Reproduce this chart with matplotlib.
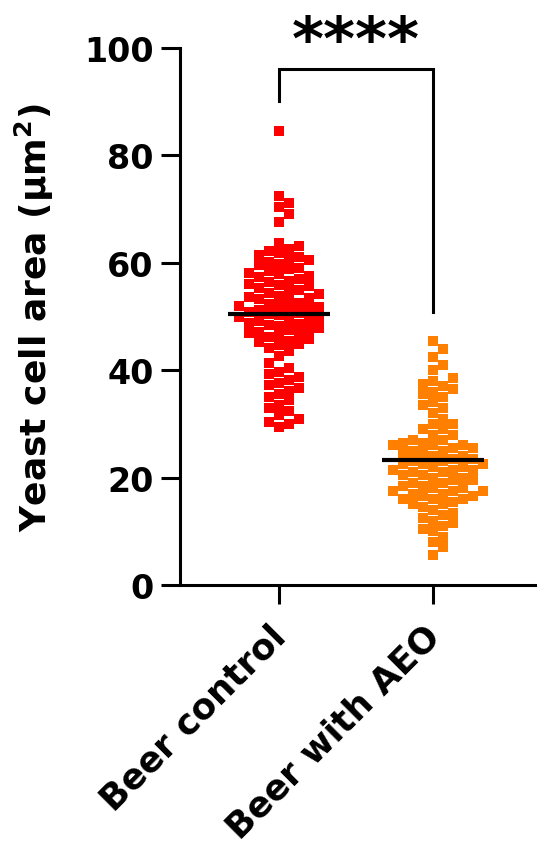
import numpy as np
import matplotlib
matplotlib.use("Agg")
import matplotlib.pyplot as plt
from matplotlib.transforms import ScaledTranslation

plt.rcParams['font.family'] = ['DejaVu Sans']
plt.rcParams['font.weight'] = 'bold'
plt.rcParams['mathtext.default'] = 'bf'

groups = ["Beer control", "Beer with AEO"]
colors = ["#FF0000", "#FF8000"]

control = [84.5,
           72.5, 71.2, 70.4, 69.0, 67.6,
           63.6, 63.1, 62.6, 62.2,
           61.8, 61.5, 61.1, 60.8, 60.5, 60.2,
           59.8, 59.5, 59.1, 58.8, 58.4, 58.1,
           57.9, 57.6, 57.3, 57.0, 56.7, 56.4, 56.1,
           55.9, 55.6, 55.3, 55.0, 54.7, 54.4, 54.1,
           53.9, 53.7, 53.4, 53.2, 52.9, 52.6, 52.4, 52.1,
           51.9, 51.7, 51.5, 51.3, 51.1, 50.8, 50.6, 50.4, 50.2,
           49.9, 49.7, 49.5, 49.3, 49.1, 48.8, 48.6, 48.4, 48.2,
           47.9, 47.7, 47.4, 47.2, 46.9, 46.7, 46.4, 46.2,
           45.8, 45.5, 45.2, 44.9, 44.6, 44.2,
           43.5, 42.6,
           41.4, 40.5,
           39.7, 39.2, 38.7, 38.2,
           37.7, 37.2, 36.7, 36.2,
           35.6, 35.0, 34.4,
           33.6, 33.0, 32.4,
           31.6, 31.0, 30.4,
           29.9, 29.4]

aeo = [45.5, 44, 42.5, 41, 40, 38.5, 38, 37.5, 37, 36.5, 36, 35.5, 35, 34,
       33.5, 33, 32, 31, 30, 30, 29, 29, 28, 28,
       27, 27, 26.5, 26.5, 26, 26, 26, 25.5, 25.5, 25, 25, 24.5, 24.5, 24,
       24, 23.5, 23.5, 23, 23, 22.5, 22.5, 22.5, 22, 22, 21.5, 21.5, 21.5,
       21, 21, 20.5, 20.5, 20, 20, 19.5, 19.5, 19, 19, 18.5, 18.5, 18, 18,
       17.5, 17.5, 17.5, 17, 17, 16.5, 16.5, 16, 16, 16,
       15.5, 15, 15, 14.5, 14, 13.5, 13, 12.5, 12, 11.5, 11, 10.5, 10, 9, 8,
       7, 5.5]

data = [control, aeo]

fig = plt.figure(figsize=(5.5, 8.53), dpi=100)
ax = fig.add_axes([180/550, 267/853, 355/550, 537/853])

px_per_y = 5.37     # pixels per data unit (y)
px_per_x = 154.0    # pixels per category
msize = 11          # marker size in pixels


def swarm(vals):
    # simple column-based swarm in pixel space
    order = np.argsort(vals)
    placed = []
    offs = np.zeros(len(vals))
    for i in order:
        y = vals[i] * px_per_y
        k = 0
        while True:
            cands = [0] if k == 0 else [k, -k]
            ok = None
            for c in cands:
                x = c * msize * 0.9
                if all(abs(x - px) >= msize * 0.85 or abs(y - py) >= msize * 0.85
                       for px, py in placed):
                    ok = x
                    break
            if ok is not None:
                placed.append((ok, y))
                offs[i] = ok
                break
            k += 1
    return offs / px_per_x


for i, vals in enumerate(data):
    vals = np.array(vals)
    xs = i + swarm(vals)
    ax.plot(xs, vals, 's', color=colors[i], markersize=7.6, markeredgewidth=0,
            clip_on=False, zorder=2)
    m = vals.mean()
    ax.plot([i - 0.33, i + 0.33], [m, m], color='black', lw=3, zorder=3,
            solid_capstyle='butt')

# significance bracket
ax.plot([0, 0, 1, 1], [90.2, 96.1, 96.1, 50.8], color='black', lw=2.2,
        clip_on=False, solid_joinstyle='miter')
ax.text(0.5, 97.9, "****", ha='center', va='baseline', fontsize=44,
        fontweight='bold')

ax.set_xlim(-0.643, 1.662)
ax.set_ylim(0, 100)
ax.set_yticks([0, 20, 40, 60, 80, 100])
ax.set_xticks([0, 1])
ax.set_xticklabels(groups, rotation=45, ha='right', rotation_mode='anchor')
ax.tick_params(axis='both', direction='out', length=14, width=2.2,
               labelsize=24, pad=5)
ax.tick_params(axis='x', labelsize=25.5)
shift = ScaledTranslation(-10/100, -7/100, fig.dpi_scale_trans)
for lab in ax.get_xticklabels():
    lab.set_transform(lab.get_transform() + shift)
for lab in ax.get_yticklabels() + ax.get_xticklabels():
    lab.set_fontweight('bold')
ax.set_ylabel("Yeast cell area (μm$^{2}$)", fontsize=26,
              fontweight='bold', labelpad=20)

for s in ['top', 'right']:
    ax.spines[s].set_visible(False)
for s in ['left', 'bottom']:
    ax.spines[s].set_linewidth(2.2)

fig.savefig("out.png", dpi=100)
